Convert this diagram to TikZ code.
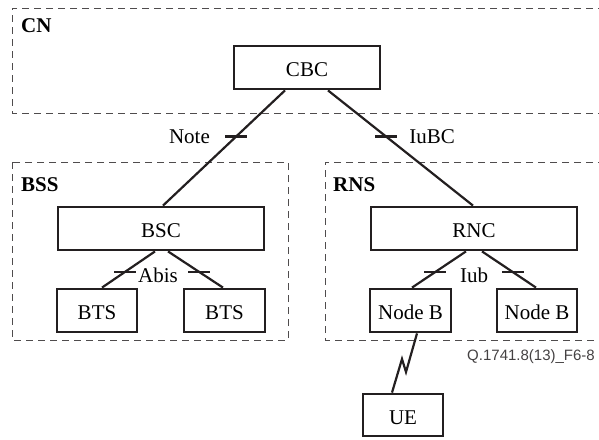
\documentclass[tikz,border=0pt]{standalone}
\usepackage{fontspec}
\setmainfont{Liberation Serif}
\newfontfamily\figfont{Liberation Sans}
\usetikzlibrary{positioning}
\definecolor{ink}{HTML}{231F20}
\tikzset{>=latex,
	unit/.style={draw=ink, line width=2.8pt, minimum height=43pt, inner sep=0pt,
		text height=18pt, text depth=0pt, font=\fontsize{21}{25}\selectfont},
	link/.style={draw=ink, line width=2.2pt},
	tick/.style={fill=ink, minimum width=22pt, minimum height=2.2pt, inner sep=0pt},
	iface/.style={inner sep=2pt, font=\fontsize{21}{25}\selectfont},
	area/.style={draw=ink!80, dash pattern=on 7pt off 5pt, line width=1pt},
	arealabel/.style={anchor=north west, inner sep=2pt, font=\fontsize{21}{25}\selectfont\bfseries}
}

\begin{document}
\begin{tikzpicture}[x=1pt,y=-1pt]
%	\draw[help lines, step=50] (0,0) grid (599,439);
	\useasboundingbox (0,0) rectangle (599,439);
	\draw [area] (605,8) -- (12,8) -- (12,113) -- (605,113);
	\draw [area] (12,162) rectangle (288,340);
	\draw [area] (605,162) -- (325,162) -- (325,340) -- (605,340);
	\node [arealabel] (cn) at (19,16) {CN};
	\node [arealabel] (bss) at (19,175) {BSS};
	\node [arealabel] (rns) at (331,175) {RNS};
	\node [unit, minimum width=146pt] (cbc) at (307,67.5) {CBC};
	\node [unit, minimum width=206pt] (bsc) at (161,228.5) {BSC};
	\node [unit, minimum width=206pt] (rnc) at (474,228.5) {RNC};
	\node [unit, minimum width=80pt] (bts1) at (97,310.5) {BTS};
	\node [unit, minimum width=81pt] (bts2) at (224.5,310.5) {BTS};
	\node [unit, minimum width=81pt] (nodeb1) at (410.5,310.5) {Node B};
	\node [unit, minimum width=80pt] (nodeb2) at (537,310.5) {Node B};
	\node [unit, minimum width=80pt, minimum height=42pt] (ue) at (403,415) {UE};
	\draw [link] ([xshift=-22pt]cbc.south) -- node [tick, pos=.4] (tnote) {} ([xshift=2pt]bsc.north);
	\draw [link] ([xshift=21pt]cbc.south) -- node [tick, pos=.4] (tiubc) {} ([xshift=-1pt]rnc.north);
	\node [iface, left=12pt of tnote] (note) {Note};
	\node [iface, right=9pt of tiubc] (iubc) {IuBC};
	\draw [link] ([xshift=-6pt]bsc.south) -- node [tick, pos=.57] (tabis1) {} ([xshift=5pt]bts1.north);
	\draw [link] ([xshift=7pt]bsc.south) -- node [tick, pos=.57] (tabis2) {} ([xshift=-1.5pt]bts2.north);
	\node [iface, below=14pt of bsc, xshift=-3pt] (abis) {Abis};
	\draw [link] ([xshift=-8pt]rnc.south) -- node [tick, pos=.57] (tiub1) {} ([xshift=1.5pt]nodeb1.north);
	\draw [link] ([xshift=8pt]rnc.south) -- node [tick, pos=.57] (tiub2) {} ([xshift=-1pt]nodeb2.north);
	\node [iface, below=14pt of rnc] (iub) {Iub};
	\draw [link] ([xshift=6.5pt]nodeb1.south) -- (406,372) -- (402,359) -- ([xshift=-11pt]ue.north);
	\node [anchor=east, inner sep=2pt, text=ink!85, font=\figfont\fontsize{15}{18}\selectfont] (figid) at (597,357) {Q.1741.8(13)\_F6-8};
\end{tikzpicture}
\end{document}
